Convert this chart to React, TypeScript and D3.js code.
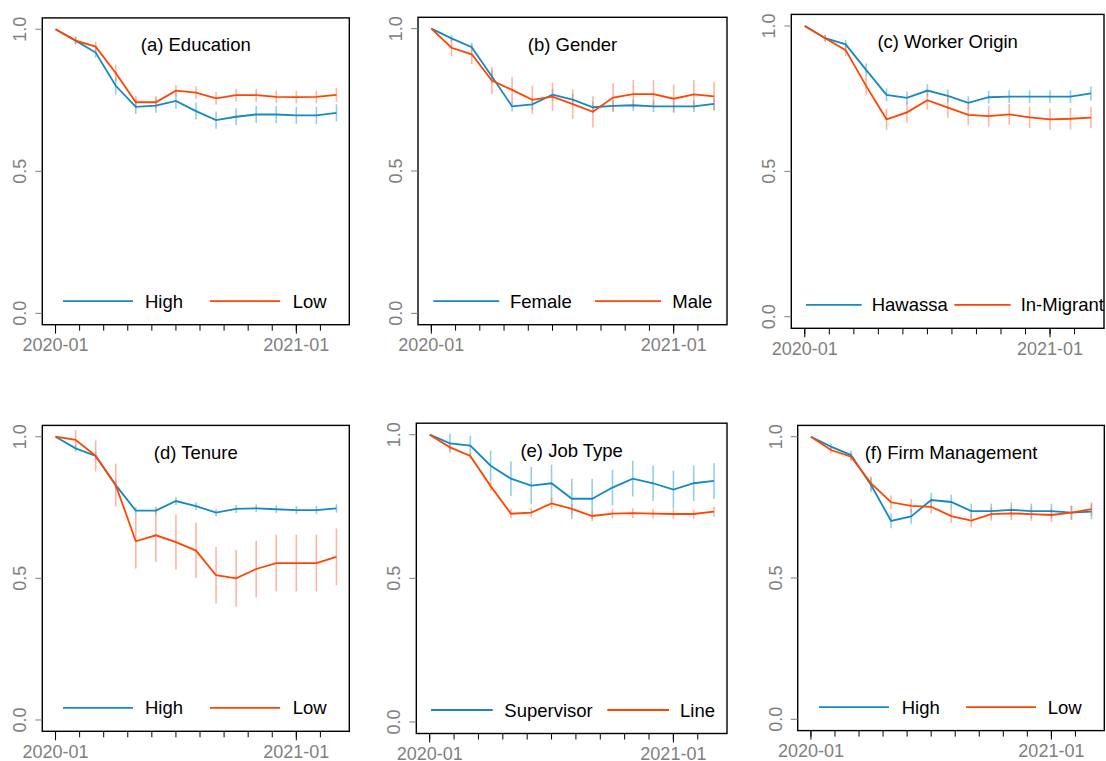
import React from "react";
import * as d3 from "d3";

// ---- data ----
const months = [
  "2020-01","2020-02","2020-03","2020-04","2020-05","2020-06","2020-07","2020-08",
  "2020-09","2020-10","2020-11","2020-12","2021-01","2021-02","2021-03",
];
const xTickStep = 1.2; // months between axis ticks
const xTickCount = 12;
const xLabels = ["2020-01", "2021-01"];
const yTicks = [0, 0.5, 1.0];

const eduHigh = [1.0, 0.96, 0.918, 0.801, 0.727, 0.731, 0.748, 0.712, 0.68, 0.692, 0.7, 0.7, 0.697, 0.697, 0.706];
const eduLow = [1.0, 0.96, 0.939, 0.846, 0.743, 0.743, 0.784, 0.777, 0.757, 0.768, 0.768, 0.762, 0.761, 0.762, 0.769];
const eduHighErr = [0, 0.014, 0.018, 0.03, 0.025, 0.025, 0.028, 0.03, 0.03, 0.03, 0.03, 0.03, 0.03, 0.03, 0.03];
const eduLowErr = [0, 0.012, 0.017, 0.028, 0.022, 0.022, 0.02, 0.022, 0.022, 0.022, 0.022, 0.022, 0.022, 0.022, 0.024];

const genFemale = [1.0, 0.966, 0.935, 0.832, 0.727, 0.734, 0.768, 0.751, 0.724, 0.729, 0.731, 0.727, 0.727, 0.727, 0.736];
const genMale = [1.0, 0.933, 0.91, 0.818, 0.785, 0.75, 0.761, 0.735, 0.708, 0.758, 0.77, 0.77, 0.754, 0.769, 0.762];
const genFemaleErr = [0, 0.012, 0.015, 0.023, 0.018, 0.02, 0.02, 0.02, 0.02, 0.02, 0.02, 0.02, 0.02, 0.02, 0.022];
const genMaleErr = [0, 0.03, 0.034, 0.048, 0.046, 0.05, 0.05, 0.052, 0.055, 0.05, 0.049, 0.049, 0.05, 0.05, 0.05];

const oriHawassa = [1.0, 0.958, 0.937, 0.849, 0.763, 0.753, 0.778, 0.76, 0.736, 0.755, 0.757, 0.757, 0.757, 0.757, 0.768];
const oriMigrant = [1.0, 0.958, 0.917, 0.794, 0.679, 0.703, 0.745, 0.719, 0.694, 0.69, 0.696, 0.686, 0.679, 0.681, 0.685];
const oriHawassaErr = [0, 0.012, 0.015, 0.022, 0.022, 0.022, 0.022, 0.022, 0.022, 0.022, 0.022, 0.022, 0.022, 0.022, 0.024];
const oriMigrantErr = [0, 0.012, 0.02, 0.032, 0.036, 0.035, 0.033, 0.035, 0.036, 0.036, 0.036, 0.037, 0.037, 0.037, 0.037];

const tenHigh = [1.0, 0.959, 0.932, 0.829, 0.739, 0.739, 0.773, 0.755, 0.732, 0.745, 0.747, 0.744, 0.741, 0.741, 0.747];
const tenLow = [1.0, 0.989, 0.932, 0.829, 0.631, 0.652, 0.628, 0.598, 0.511, 0.5, 0.533, 0.554, 0.554, 0.554, 0.576];
const tenHighErr = [0, 0.012, 0.014, 0.016, 0.014, 0.014, 0.014, 0.014, 0.014, 0.014, 0.014, 0.014, 0.014, 0.014, 0.015];
const tenLowErr = [0, 0.035, 0.055, 0.076, 0.096, 0.094, 0.097, 0.098, 0.1, 0.1, 0.1, 0.1, 0.1, 0.1, 0.1];

const jobSupervisor = [1.0, 0.97, 0.962, 0.892, 0.847, 0.823, 0.831, 0.777, 0.777, 0.816, 0.847, 0.831, 0.809, 0.831, 0.839];
const jobLine = [1.0, 0.956, 0.926, 0.821, 0.725, 0.729, 0.761, 0.742, 0.717, 0.725, 0.727, 0.725, 0.724, 0.724, 0.732];
const jobSupervisorErr = [0, 0.033, 0.034, 0.053, 0.06, 0.065, 0.065, 0.07, 0.07, 0.062, 0.062, 0.062, 0.066, 0.062, 0.062];
const jobLineErr = [0, 0.012, 0.012, 0.017, 0.017, 0.017, 0.02, 0.017, 0.017, 0.017, 0.017, 0.017, 0.017, 0.017, 0.018];

const firmHigh = [1.0, 0.965, 0.935, 0.829, 0.702, 0.718, 0.776, 0.769, 0.737, 0.737, 0.741, 0.737, 0.737, 0.731, 0.735];
const firmLow = [1.0, 0.953, 0.929, 0.835, 0.768, 0.755, 0.752, 0.719, 0.703, 0.726, 0.729, 0.726, 0.723, 0.731, 0.744];
const firmHighErr = [0, 0.012, 0.015, 0.026, 0.026, 0.026, 0.026, 0.026, 0.026, 0.026, 0.026, 0.026, 0.026, 0.026, 0.027];
const firmLowErr = [0, 0.012, 0.015, 0.024, 0.024, 0.024, 0.024, 0.024, 0.024, 0.024, 0.024, 0.024, 0.024, 0.024, 0.025];

const titles = ["(a) Education", "(b) Gender", "(c) Worker Origin", "(d) Tenure", "(e) Job Type", "(f) Firm Management"];
const blueNames = ["High", "Female", "Hawassa", "High", "Supervisor", "High"];
const redNames = ["Low", "Male", "In-Migrant", "Low", "Line", "Low"];
const blueSeries = [eduHigh, genFemale, oriHawassa, tenHigh, jobSupervisor, firmHigh];
const redSeries = [eduLow, genMale, oriMigrant, tenLow, jobLine, firmLow];
const blueErrs = [eduHighErr, genFemaleErr, oriHawassaErr, tenHighErr, jobSupervisorErr, firmHighErr];
const redErrs = [eduLowErr, genMaleErr, oriMigrantErr, tenLowErr, jobLineErr, firmLowErr];

// ---- layout ----
const boxes = [
  { L: 42.3, R: 349.3, T: 17.9, B: 324.7 },
  { L: 418, R: 727, T: 17.3, B: 324.7 },
  { L: 791.3, R: 1104, T: 14.4, B: 328.3 },
  { L: 42.3, R: 349.3, T: 425.4, B: 731.3 },
  { L: 416.3, R: 727, T: 423.2, B: 733.5 },
  { L: 797.7, R: 1104.3, T: 425.4, B: 730.6 },
];
// legend offsets from box left: [blueLineStart, blueLineEnd, blueText, redLineStart, redLineEnd, redText]
const legendOffsets = [
  [20.7, 90.7, 102.7, 167.7, 237.7, 250.4],
  [15.3, 81.3, 92, 177, 243, 254.3],
  [14.7, 70.4, 80.4, 163, 219.4, 229.4],
  [20.7, 90.7, 102.7, 167.7, 237.7, 250.4],
  [14.7, 76.4, 88, 191, 252.7, 263.7],
  [21.3, 91.3, 104, 168.3, 238.3, 250],
];

const BLUE = "#1589c2";
const RED = "#ff4500";
const BLUE_ERR = "rgba(110,190,225,0.75)";
const RED_ERR = "rgba(255,130,100,0.6)";
const GREY = "#808080";
const FONT = "'Liberation Sans', Arial, Helvetica, sans-serif";

function Panel({ i }: { i: number }) {
  const b = boxes[i];
  const x = d3.scaleLinear().domain([-0.66, 14.64]).range([b.L, b.R]);
  const y = d3.scaleLinear().domain([-0.04, 1.04]).range([b.B, b.T]);
  const line = d3
    .line<number>()
    .x((_, k) => x(k))
    .y((d) => y(d));
  const lo = legendOffsets[i];
  const ly = b.B - 23.5;
  const ticks = d3.range(xTickCount).map((k) => k * xTickStep);
  const labelIdx = xLabels.map((l) => months.indexOf(l));
  const errBars = (vals: number[], errs: number[], color: string, key: string) =>
    vals.map((v, k) =>
      errs[k] > 0 ? (
        <line
          key={key + k}
          x1={x(k)}
          x2={x(k)}
          y1={y(v - errs[k])}
          y2={y(v + errs[k])}
          stroke={color}
          strokeWidth={1.6}
        />
      ) : null
    );
  return (
    <g>
      {errBars(blueSeries[i], blueErrs[i], BLUE_ERR, "be")}
      {errBars(redSeries[i], redErrs[i], RED_ERR, "re")}
      <path d={line(blueSeries[i]) || ""} fill="none" stroke={BLUE} strokeWidth={1.8} />
      <path d={line(redSeries[i]) || ""} fill="none" stroke={RED} strokeWidth={1.8} />
      <rect x={b.L} y={b.T} width={b.R - b.L} height={b.B - b.T} fill="none" stroke="#000" strokeWidth={1.4} />
      {/* x ticks */}
      {ticks.map((t) => (
        <line key={"xt" + t} x1={x(t)} x2={x(t)} y1={b.B} y2={b.B + 6} stroke="#000" strokeWidth={1} />
      ))}
      {labelIdx.map((k, j) => (
        <g key={"xl" + j}>
          <line x1={x(k)} x2={x(k)} y1={b.B} y2={b.B + 9} stroke="#000" strokeWidth={1} />
          <text x={x(k)} y={b.B + 26.5} textAnchor="middle" fontSize={18} fill={GREY} fontFamily={FONT}>
            {xLabels[j]}
          </text>
        </g>
      ))}
      {/* y ticks */}
      {yTicks.map((t) => (
        <g key={"yt" + t}>
          <line x1={b.L - 7} x2={b.L} y1={y(t)} y2={y(t)} stroke={GREY} strokeWidth={1} />
          <text
            transform={`translate(${b.L - 16},${y(t)}) rotate(-90)`}
            textAnchor="middle"
            fontSize={18}
            fill={GREY}
            fontFamily={FONT}
          >
            {t.toFixed(1)}
          </text>
        </g>
      ))}
      <text x={(b.L + b.R) / 2} y={b.T + 33.3} textAnchor="middle" fontSize={18.5} fill="#000" fontFamily={FONT}>
        {titles[i]}
      </text>
      {/* legend */}
      <line x1={b.L + lo[0]} x2={b.L + lo[1]} y1={ly} y2={ly} stroke={BLUE} strokeWidth={1.8} />
      <text x={b.L + lo[2]} y={ly + 6.5} fontSize={18.5} fill="#000" fontFamily={FONT}>
        {blueNames[i]}
      </text>
      <line x1={b.L + lo[3]} x2={b.L + lo[4]} y1={ly} y2={ly} stroke={RED} strokeWidth={1.8} />
      <text x={b.L + lo[5]} y={ly + 6.5} fontSize={18.5} fill="#000" fontFamily={FONT}>
        {redNames[i]}
      </text>
    </g>
  );
}

export default function App() {
  return (
    <svg
      width={1106}
      height={761}
      style={{ position: "absolute", left: 0, top: 0, background: "#fff" }}
    >
      <rect width={1106} height={761} fill="#fff" />
      {titles.map((_, i) => (
        <Panel key={i} i={i} />
      ))}
    </svg>
  );
}
